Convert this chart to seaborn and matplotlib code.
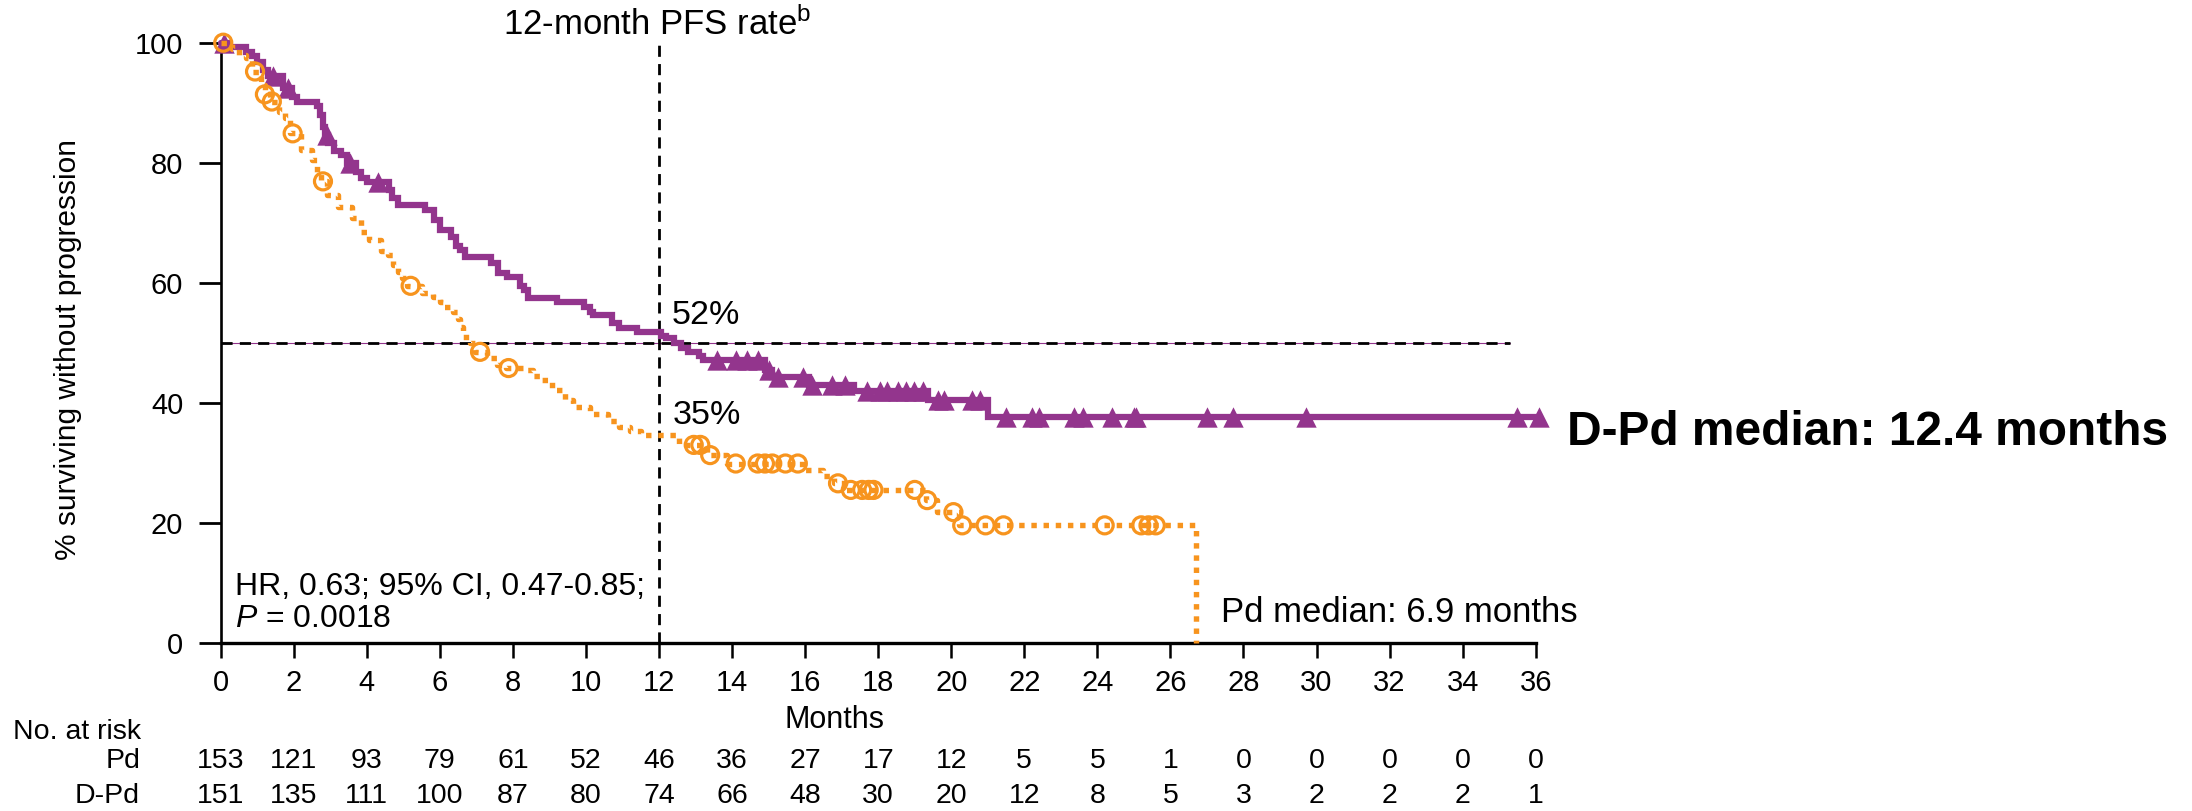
import numpy as np
import matplotlib
matplotlib.use("Agg")
import matplotlib.pyplot as plt
import matplotlib.transforms as mtransforms
import seaborn as sns

# ---------------- data ----------------
# D-Pd Kaplan-Meier steps (months, % surviving without progression)
dpd_t = [0, 0.2, 0.7, 0.85, 1.0, 1.15, 1.3, 1.7, 1.95, 2.1, 2.65, 2.72, 2.8, 2.85, 2.95,
         3.1, 3.3, 3.45, 3.7, 3.85, 4.0, 4.6, 4.7, 4.85, 5.6, 5.85, 6.0, 6.3, 6.45, 6.55,
         6.7, 7.4, 7.6, 7.85, 8.2, 8.3, 8.4, 9.2, 9.95, 10.1, 10.2, 10.7, 10.9, 11.4,
         12.05, 12.2, 12.4, 12.6, 12.8, 13.1, 13.2, 14.9, 15.1, 16.1, 17.35, 19.35, 21.0, 36.1]
dpd_s = [100, 99.3, 98.5, 97.8, 96.8, 95.5, 94.5, 92.5, 91.0, 90.2, 89.5, 88.0, 86.0, 84.6, 83.3,
         82.0, 81.3, 80.0, 78.5, 77.4, 76.8, 75.5, 74.1, 73.0, 72.1, 70.4, 68.8, 67.7, 66.2, 65.4,
         64.3, 63.3, 61.6, 61.0, 59.5, 58.8, 57.4, 56.8, 56.0, 55.2, 54.6, 53.3, 52.4, 51.8,
         51.2, 50.8, 49.9, 49.2, 48.5, 47.8, 47.1, 45.4, 44.3, 42.9, 41.9, 40.4, 37.7, 37.7]
# D-Pd censored observations
dpd_cx = [0.1, 1.43, 1.83, 2.9, 3.55, 4.3, 13.6, 14.1, 14.4, 14.7, 15.0, 15.25, 15.95,
          16.2, 16.74, 17.1, 17.7, 18.06, 18.25, 18.55, 18.75, 18.97, 19.24, 19.65, 19.8,
          20.57, 20.8, 21.5, 22.2, 22.4, 23.35, 23.6, 24.4, 25.0, 25.05, 27.0, 27.7, 29.7,
          35.5, 36.1]
dpd_cy = [100, 94.5, 92.5, 84.6, 80.0, 76.8, 47.1, 47.1, 47.1, 47.1, 45.4, 44.3, 44.3,
          42.9, 42.9, 42.9, 41.9, 41.9, 41.9, 41.9, 41.9, 41.9, 41.9, 40.4, 40.4,
          40.4, 40.4, 37.7, 37.7, 37.7, 37.7, 37.7, 37.7, 37.7, 37.7, 37.7, 37.7, 37.7,
          37.7, 37.7]

# Pd Kaplan-Meier steps
pd_t = [0, 0.3, 0.5, 0.7, 0.85, 1.1, 1.2, 1.35, 1.6, 1.75, 1.9, 2.2, 2.5, 2.65, 2.75, 2.9,
        3.2, 3.6, 3.85, 4.05, 4.4, 4.58, 4.72, 4.85, 4.96, 5.1, 5.5, 5.8, 6.0, 6.1, 6.37,
        6.5, 6.55, 6.64, 6.83, 6.95, 7.3, 7.56, 7.8, 8.3, 8.55, 8.75, 9.0, 9.16, 9.43, 9.65,
        10.1, 10.6, 10.9, 11.2, 11.5, 12.55, 13.3, 13.85, 16.0, 16.5, 16.8, 17.1, 19.3, 19.6,
        20.2, 26.7]
pd_s = [100, 99.0, 98.0, 97.4, 95.2, 93.0, 91.4, 90.2, 88.5, 87.5, 84.9, 82.1, 80.4, 78.5, 76.9, 74.6,
        72.7, 70.8, 68.5, 67.2, 65.3, 64.6, 62.9, 61.8, 60.8, 59.5, 58.3, 57.7, 56.8, 56.0, 55.2,
        54.0, 52.7, 51.0, 49.9, 48.5, 47.5, 46.3, 45.8, 45.4, 44.5, 43.8, 43.0, 42.1, 40.4, 39.3,
        38.2, 37.0, 36.0, 35.3, 34.6, 33.0, 31.3, 29.9, 28.8, 27.9, 26.6, 25.5, 23.8, 21.8,
        19.6, 0]
# Pd censored observations
pd_cx = [0.07, 0.94, 1.21, 1.4, 1.97, 2.8, 5.2, 7.1, 7.88, 12.95, 13.13, 13.4, 14.1, 14.7,
         14.9, 15.1, 15.46, 15.8, 16.9, 17.25, 17.56, 17.74, 17.87, 19.0, 19.34, 20.06, 20.3,
         20.94, 21.43, 24.2, 25.2, 25.4, 25.6]
pd_cy = [100, 95.2, 91.4, 90.2, 84.9, 76.9, 59.5, 48.5, 45.8, 33.0, 33.0, 31.3, 29.9, 29.9,
         29.9, 29.9, 29.9, 29.9, 26.6, 25.5, 25.5, 25.5, 25.5, 25.5, 23.8, 21.8, 19.6,
         19.6, 19.6, 19.6, 19.6, 19.6, 19.6]

# number at risk
risk_months = [0, 2, 4, 6, 8, 10, 12, 14, 16, 18, 20, 22, 24, 26, 28, 30, 32, 34, 36]
risk_pd = [153, 121, 93, 79, 61, 52, 46, 36, 27, 17, 12, 5, 5, 1, 0, 0, 0, 0, 0]
risk_dpd = [151, 135, 111, 100, 87, 80, 74, 66, 48, 30, 20, 12, 8, 5, 3, 2, 2, 2, 1]
risk_labels = ["Pd", "D-Pd"]

y_ticks = [0, 20, 40, 60, 80, 100]

PURPLE = "#93358D"
ORANGE = "#F7941E"

# ---------------- style ----------------
sns.set_theme(style="white")
plt.rcParams["font.family"] = ["Liberation Sans", "DejaVu Sans"]
plt.rcParams["mathtext.fontset"] = "custom"
plt.rcParams["mathtext.rm"] = "Liberation Sans"
plt.rcParams["mathtext.it"] = "Liberation Sans:italic"
plt.rcParams["mathtext.bf"] = "Liberation Sans:bold"
for k in ["text.color", "axes.labelcolor", "xtick.color", "ytick.color", "axes.edgecolor"]:
    plt.rcParams[k] = "black"

fig = plt.figure(figsize=(21.92, 8.11), dpi=100)
ax = fig.add_axes([220.7 / 2192, 1 - 643 / 811, (1535.7 - 220.7) / 2192, 600.3 / 811])

# reference lines
ax.plot([0, 35.3], [50, 50], color=PURPLE, lw=0.8, zorder=1)
ax.plot([0, 35.3], [50, 50], color="black", lw=2.0, linestyle=(0, (4.0, 2.6)), zorder=1.5)
ax.plot([12, 12], [0, 100], color="black", lw=2.0, linestyle=(0, (4.0, 2.6)), zorder=1.5)

# curves
sns.lineplot(x=dpd_t, y=dpd_s, drawstyle="steps-post", color=PURPLE, lw=4.5,
             ax=ax, clip_on=False, zorder=3, solid_joinstyle="miter")
sns.scatterplot(x=dpd_cx, y=dpd_cy, marker="^", s=215, color=PURPLE, edgecolor=PURPLE,
                linewidth=0, ax=ax, clip_on=False, zorder=4)
sns.lineplot(x=pd_t, y=pd_s, drawstyle="steps-post", color=ORANGE, lw=3.9,
             linestyle=(0, (1.0, 1.25)), dash_capstyle="butt", ax=ax, clip_on=False, zorder=5)
sns.scatterplot(x=pd_cx, y=pd_cy, marker="o", s=150, facecolors="none", edgecolor=ORANGE,
                linewidth=2.3, ax=ax, clip_on=False, zorder=6)

# axes
ax.set_xlim(0, 36)
ax.set_ylim(0, 100)
ax.set_xticks(risk_months)
ax.set_xticklabels([str(m) for m in risk_months])
ax.set_yticks(y_ticks)
ax.set_yticklabels([str(v) for v in y_ticks])
ax.set_xlabel("")
ax.set_ylabel("")
for s in ["top", "right"]:
    ax.spines[s].set_visible(False)
ax.spines["left"].set_linewidth(1.9)
ax.spines["bottom"].set_linewidth(2.4)
ax.tick_params(axis="y", direction="out", length=16, width=2.0, pad=11, labelsize=21,
               colors="black", left=True)
ax.tick_params(axis="x", direction="out", length=11, width=1.8, pad=8, labelsize=21,
               colors="black", bottom=True)

# annotations
ax.text(7.73, 101.3, r"12-month PFS rate$^{\mathrm{b}}$", fontsize=25, ha="left",
        va="baseline", clip_on=False)
ax.text(12.36, 53.1, "52%", fontsize=24.5, ha="left", va="baseline")
ax.text(12.36, 36.45, "35%", fontsize=24.5, ha="left", va="baseline")
ax.text(0.4, 8.0, "HR, 0.63; 95% CI, 0.47-0.85;", fontsize=23, ha="left", va="baseline")
ax.text(0.4, 2.6, r"$P$ = 0.0018", fontsize=23, ha="left", va="baseline")
ax.text(27.38, 3.5, "Pd median: 6.9 months", fontsize=25, ha="left", va="baseline")
ax.text(36.85, 32.95, "D-Pd median: 12.4 months", fontsize=34.5, fontweight="bold",
        ha="left", va="baseline", clip_on=False)

fig.text(68 / 2192, 1 - 350 / 811, "% surviving without progression", rotation=90,
         fontsize=21.5, ha="center", va="center")

# x label and risk table
blend = mtransforms.blended_transform_factory(ax.transData, ax.transAxes)
ax.text(16.8, -(720 - 643) / 600.3, "Months", fontsize=22, ha="center", va="center",
        transform=blend)
fig.text(13 / 2192, 1 - 732 / 811, "No. at risk", fontsize=20.5, ha="left", va="center")
row_y = [1 - 761 / 811, 1 - 796 / 811]
for lab, yy, vals in zip(risk_labels, row_y, [risk_pd, risk_dpd]):
    fig.text(140 / 2192, yy, lab, fontsize=20.5, ha="right", va="center")
    for m, v in zip(risk_months, vals):
        ax.text(m, (yy * 811 - (811 - 643)) / 600.3, str(v), fontsize=20.5, ha="center",
                va="center", transform=blend)

fig.savefig("out.png", dpi=100)
